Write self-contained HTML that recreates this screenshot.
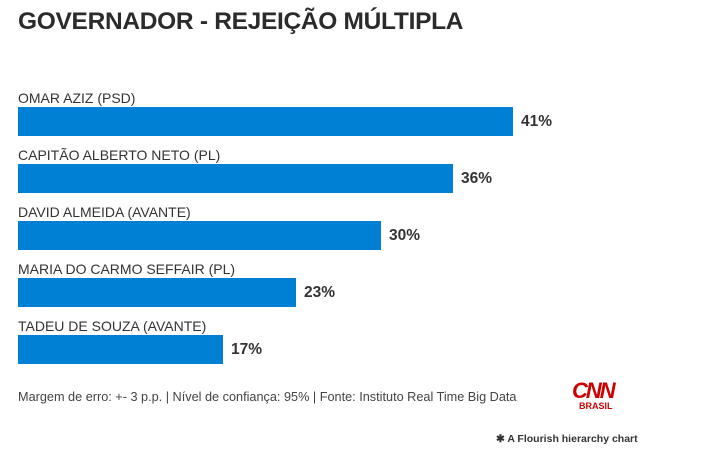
<!DOCTYPE html>
<html><head><meta charset="utf-8"><style>
body{margin:0;width:727px;height:456px;background:#fff;font-family:"Liberation Sans",sans-serif;position:relative;overflow:hidden;color:#333}
.t{position:absolute;left:18px;top:8px;font-size:24.5px;font-weight:bold;color:#2b2b2b;letter-spacing:-0.3px}
.l{position:absolute;left:18px;font-size:14px;color:#333}
.b{position:absolute;left:18px;height:29px;background:#0080d4}
.v{position:absolute;font-size:15.5px;font-weight:bold;color:#333}
.f{position:absolute;left:18px;top:390px;font-size:12.7px;color:#444}
</style></head><body>
<div class="t">GOVERNADOR - REJEIÇÃO MÚLTIPLA</div>
<div class="l" style="top:90px">OMAR AZIZ (PSD)</div>
<div class="b" style="top:107px;width:495px"></div><div class="v" style="left:521px;top:113px">41%</div>
<div class="l" style="top:147px">CAPITÃO ALBERTO NETO (PL)</div>
<div class="b" style="top:164px;width:435px"></div><div class="v" style="left:461px;top:170px">36%</div>
<div class="l" style="top:204px">DAVID ALMEIDA (AVANTE)</div>
<div class="b" style="top:221px;width:363px"></div><div class="v" style="left:389px;top:227px">30%</div>
<div class="l" style="top:261px">MARIA DO CARMO SEFFAIR (PL)</div>
<div class="b" style="top:278px;width:278px"></div><div class="v" style="left:304px;top:284px">23%</div>
<div class="l" style="top:318px">TADEU DE SOUZA (AVANTE)</div>
<div class="b" style="top:335px;width:205px"></div><div class="v" style="left:231px;top:341px">17%</div>
<div class="f">Margem de erro: +- 3 p.p. | Nível de confiança: 95% | Fonte: Instituto Real Time Big Data</div>
<div style="position:absolute;left:572px;top:378px;font-size:22px;font-weight:bold;color:#cc0000;letter-spacing:-2px;font-style:italic">CNN</div>
<div style="position:absolute;left:579px;top:401px;font-size:9px;font-weight:bold;color:#cc0000">BRASIL</div>
<div style="position:absolute;left:496px;top:433px;font-size:10.5px;font-weight:bold;color:#333">✱ A Flourish hierarchy chart</div>
</body></html>
